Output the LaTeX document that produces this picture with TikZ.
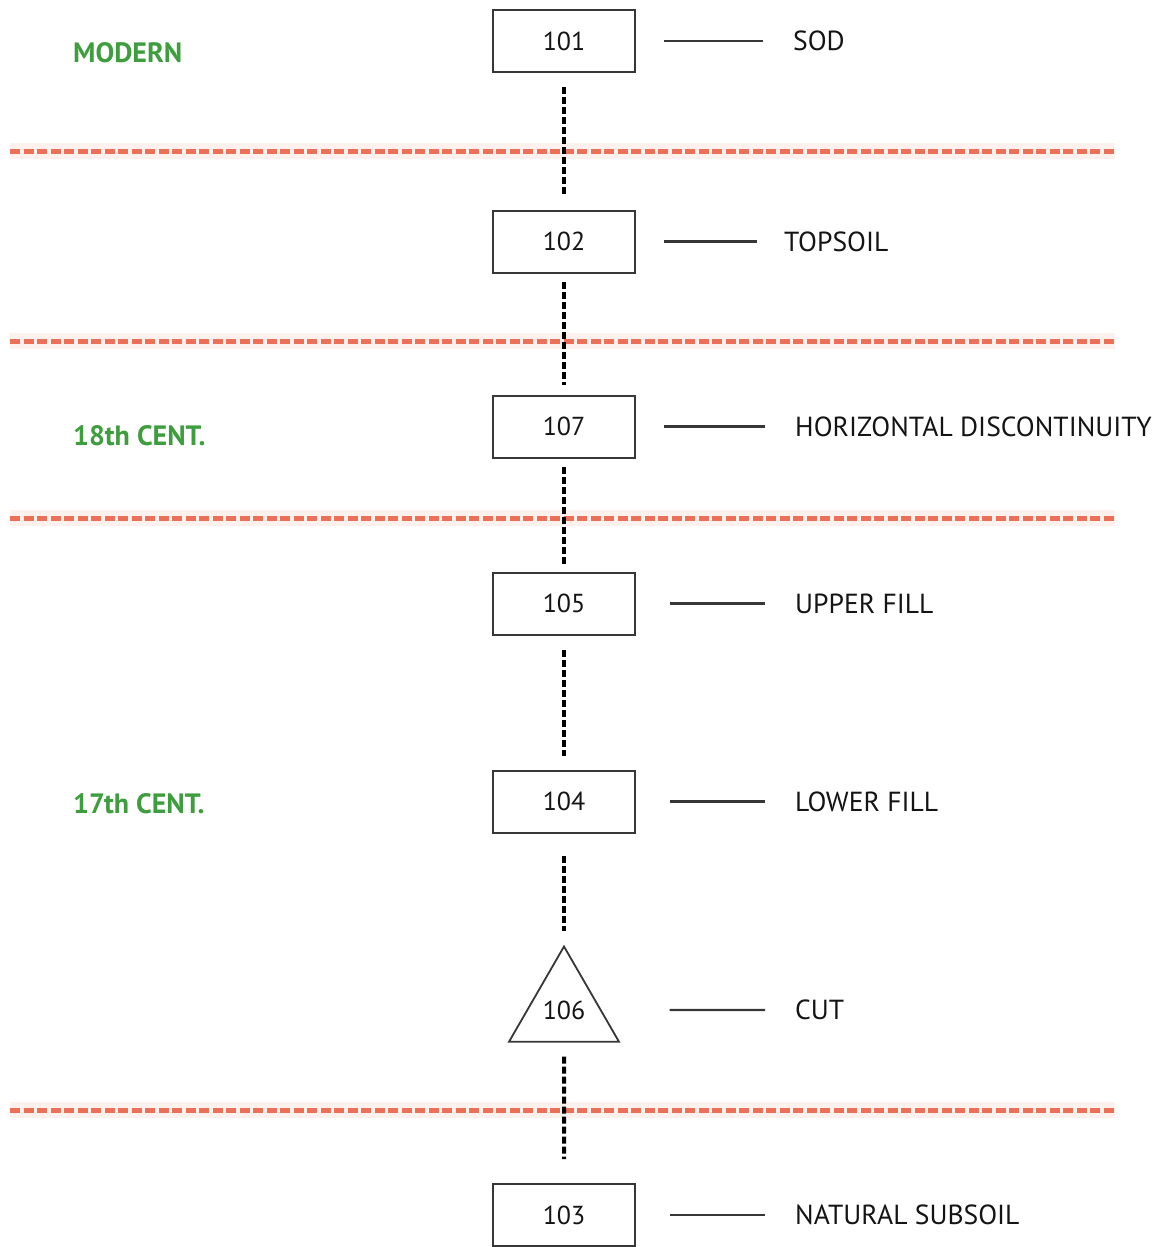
\documentclass[tikz,border=0pt]{standalone}
\usepackage{fontspec}
\setmainfont{PT Sans}
\usetikzlibrary{shapes.geometric}
\definecolor{phasered}{RGB}{236,112,88}
\definecolor{eragreen}{RGB}{62,158,62}
\definecolor{inkgrey}{RGB}{55,55,55}

\begin{document}
\begin{tikzpicture}[x = 1pt, y = -1pt, every node/.style = {font = \fontsize{26}{30}\selectfont, text = black!92}, unit/.style = {draw = inkgrey, line width = 2pt, minimum width = 142pt, minimum height = 62pt, inner sep = 0pt}, cut/.style = {regular polygon, regular polygon sides = 3, draw = inkgrey, line width = 1.8pt, minimum size = 127pt, inner sep = 0pt}, layer/.style = {anchor = west, inner sep = 0pt, font = \fontsize{27.6}{30}\selectfont}, era/.style = {anchor = west, inner sep = 0pt, text = eragreen, font = \fontsize{28}{30}\selectfont\bfseries}, seq/.style = {draw = black, line width = 4pt, dash pattern = on 7pt off 3pt, shorten <= 14pt, shorten >= 14pt}, lead/.style = {draw = inkgrey, line width = 2.4pt, shorten <= 28pt, shorten >= 30pt}, phase/.style = {draw = phasered, line width = 5pt, dash pattern = on 10pt off 3.5pt}]
    \useasboundingbox (0,0) rectangle (1162,1247);
    \fill[white] (0,0) rectangle (1162,1247);

    \draw[phasered!10, line width = 16pt] (10,151) -- (1115,151);
    \draw[phasered!10, line width = 16pt] (10,341) -- (1115,341);
    \draw[phasered!10, line width = 16pt] (10,518) -- (1115,518);
    \draw[phasered!10, line width = 16pt] (10,1110) -- (1115,1110);
    \draw[phase] (10,151) -- (1115,151);
    \draw[phase] (10,341) -- (1115,341);
    \draw[phase] (10,518) -- (1115,518);
    \draw[phase] (10,1110) -- (1115,1110);

    \node[era] (modern) at (73,53) {MODERN};
    \node[era] (c18) at (73,436) {18th CENT.};
    \node[era] (c17) at (73,804) {17th CENT.};

    \node[unit] (u101) at (564,41) {101};
    \node[unit] (u102) at (564,241.5) {102};
    \node[unit] (u107) at (564,426.5) {107};
    \node[unit] (u105) at (564,603.5) {105};
    \node[unit] (u104) at (564,801.5) {104};
    \node[cut] (u106) at (564,1010) {106};
    \node[unit] (u103) at (564,1215) {103};

    \node[layer] (t101) at (793,41) {SOD};
    \node[layer] (t102) at (784,241.5) {TOPSOIL};
    \node[layer] (t107) at (795,426.5) {HORIZONTAL DISCONTINUITY};
    \node[layer] (t105) at (795,603.5) {UPPER FILL};
    \node[layer] (t104) at (795,801.5) {LOWER FILL};
    \node[layer] (t106) at (795,1010) {CUT};
    \node[layer] (t103) at (795,1215) {NATURAL SUBSOIL};

    \draw[seq] (u101.south) -- (u102.north);
    \draw[seq, shorten <= 8pt, shorten >= 10pt] (u102.south) -- (u107.north);
    \draw[seq, shorten <= 8pt, shorten >= 8pt] (u107.south) -- (u105.north);
    \draw[seq] (u105.south) -- (u104.north);
    \draw[seq, shorten <= 22pt] (u104.south) -- (u106.corner 1);
    \draw[seq, shorten >= 24pt] (u106.south) -- (u103.north);

    \draw[lead] (u101.east) -- (t101.west);
    \draw[lead, shorten >= 27pt] (u102.east) -- (t102.west);
    \draw[lead] (u107.east) -- (t107.west);
    \draw[lead, shorten <= 34pt] (u105.east) -- (t105.west);
    \draw[lead, shorten <= 34pt] (u104.east) -- (t104.west);
    \draw[lead, shorten <= 68pt] (u106.east) -- (t106.west);
    \draw[lead, shorten <= 34pt] (u103.east) -- (t103.west);
\end{tikzpicture}
\end{document}
